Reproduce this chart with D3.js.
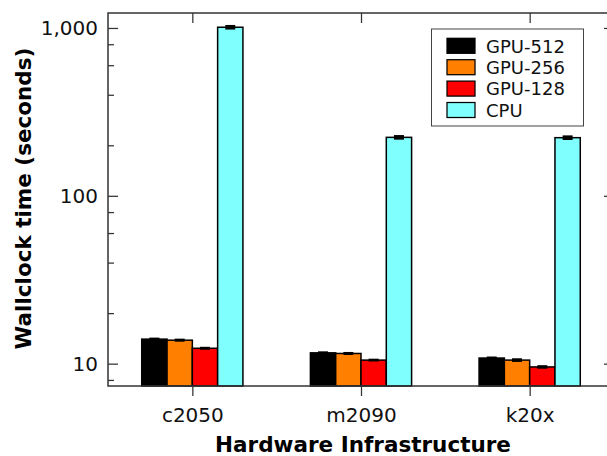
<!DOCTYPE html>
<html>
<head>
<meta charset="utf-8">
<script src="https://cdn.jsdelivr.net/npm/d3@7"></script>
<style>
  body { margin: 0; background: #fff; }
  svg { display: block; font-family: "DejaVu Sans", sans-serif; }
</style>
</head>
<body>
<div id="chart"></div>
<script>
// data
var categories = ["c2050", "m2090", "k20x"];
var seriesNames = ["GPU-512", "GPU-256", "GPU-128", "CPU"];
var seriesColors = ["#000000", "#ff8000", "#ff0000", "#80ffff"];

var gpu512 = [14.0, 11.6, 10.8];
var gpu256 = [13.8, 11.5, 10.5];
var gpu128 = [12.35, 10.5, 9.56];
var cpu = [1010, 223, 222];

var gpu512Err = [0.1, 0.08, 0.08];
var gpu256Err = [0.1, 0.08, 0.12];
var gpu128Err = [0.08, 0.06, 0.1];
var cpuErr = [18, 4, 4];

var yTicks = [10, 100, 1000];
var yTickLabels = ["10", "100", "1,000"];
var yMinorTicks = [8, 20, 40, 60, 80, 200, 400, 600, 800];

var values = [gpu512, gpu256, gpu128, cpu];
var errors = [gpu512Err, gpu256Err, gpu128Err, cpuErr];

window.onload = drawChart;

function drawChart(){
    var width = 607, height = 456;
    var left = 108, right = 614, top = 13, bottom = 386;
    var barWidth = 0.15;

    var svg = d3.select("#chart")
        .append("svg")
        .attr("width", width)
        .attr("height", height);

    var x = d3.scaleLinear()
        .domain([-0.5, categories.length - 0.5])
        .range([left, right]);

    var y = d3.scaleLog()
        .domain([7.36, 1228])
        .range([bottom, top]);

    // bars
    values.forEach(function(vals, s){
        svg.selectAll(".bar" + s)
            .data(vals)
            .enter()
            .append("rect")
            .attr("class", "bar" + s)
            .attr("x", function(d, i){ return x(i - 2 * barWidth + s * barWidth); })
            .attr("width", x(barWidth) - x(0))
            .attr("y", function(d){ return y(d); })
            .attr("height", function(d){ return bottom - y(d); })
            .style("fill", seriesColors[s])
            .style("stroke", "#000")
            .style("stroke-width", 1.5);
    });

    // error bars
    values.forEach(function(vals, s){
        var errs = errors[s];
        var g = svg.selectAll(".err" + s)
            .data(vals)
            .enter()
            .append("g")
            .attr("class", "err" + s)
            .attr("transform", function(d, i){
                return "translate(" + x(i - 1.5 * barWidth + s * barWidth) + ",0)";
            });
        g.append("line")
            .attr("y1", function(d, i){ return y(d - errs[i]); })
            .attr("y2", function(d, i){ return y(d + errs[i]); })
            .style("stroke", "#000")
            .style("stroke-width", 1.5);
        [-1, 1].forEach(function(sign){
            g.append("line")
                .attr("x1", -5).attr("x2", 5)
                .attr("y1", function(d, i){ return y(d + sign * errs[i]); })
                .attr("y2", function(d, i){ return y(d + sign * errs[i]); })
                .style("stroke", "#000")
                .style("stroke-width", 2);
        });
    });

    // axes, ticks pointing inwards like the original
    var yAxis = svg.append("g")
        .attr("transform", "translate(" + left + ",0)")
        .call(d3.axisLeft(y).tickValues(yTicks)
            .tickFormat(function(d, i){ return yTickLabels[i]; })
            .tickSizeInner(-10).tickSizeOuter(0).tickPadding(10));

    var yMinor = svg.append("g")
        .attr("transform", "translate(" + left + ",0)")
        .call(d3.axisLeft(y).tickValues(yMinorTicks).tickFormat("")
            .tickSizeInner(-6).tickSizeOuter(0));

    var yRight = svg.append("g")
        .attr("transform", "translate(" + right + ",0)")
        .call(d3.axisRight(y).tickValues(yTicks).tickFormat("")
            .tickSizeInner(-10).tickSizeOuter(0));

    var yRightMinor = svg.append("g")
        .attr("transform", "translate(" + right + ",0)")
        .call(d3.axisRight(y).tickValues(yMinorTicks).tickFormat("")
            .tickSizeInner(-6).tickSizeOuter(0));

    var xAxis = svg.append("g")
        .attr("transform", "translate(0," + bottom + ")")
        .call(d3.axisBottom(x).tickValues(d3.range(categories.length))
            .tickFormat(function(d){ return categories[d]; })
            .tickSizeInner(10).tickSizeOuter(0).tickPadding(11.5));

    var xTop = svg.append("g")
        .attr("transform", "translate(0," + top + ")")
        .call(d3.axisTop(x).tickValues(d3.range(categories.length)).tickFormat("")
            .tickSizeInner(-10).tickSizeOuter(0));

    svg.selectAll(".domain").remove();
    svg.selectAll(".tick line")
        .style("stroke", "#333")
        .style("stroke-width", 1.25);
    svg.selectAll(".tick text")
        .style("font-family", "DejaVu Sans")
        .style("font-size", "20px")
        .style("fill", "#111");

    // frame
    svg.append("rect")
        .attr("x", left)
        .attr("y", top)
        .attr("width", right - left)
        .attr("height", bottom - top)
        .style("fill", "none")
        .style("stroke", "#333")
        .style("stroke-width", 1.5);

    // axis titles
    svg.append("text")
        .attr("x", (left + right) / 2 + 2)
        .attr("y", 452)
        .attr("text-anchor", "middle")
        .style("font-size", "21.5px")
        .style("font-weight", "bold")
        .text("Hardware Infrastructure");

    svg.append("text")
        .attr("transform", "translate(30.5," + ((top + bottom) / 2 - 1) + ") rotate(-90)")
        .attr("text-anchor", "middle")
        .style("font-size", "21.5px")
        .style("font-weight", "bold")
        .text("Wallclock time (seconds)");

    // legend
    var legend = svg.append("g").attr("class", "legend");
    legend.append("rect")
        .attr("x", 431.5)
        .attr("y", 29)
        .attr("width", 152)
        .attr("height", 97)
        .style("fill", "#fff")
        .style("stroke", "#444")
        .style("stroke-width", 1);

    var legendItem = legend.selectAll(".legendItem")
        .data(seriesNames)
        .enter()
        .append("g")
        .attr("class", "legendItem")
        .attr("transform", function(d, i){
            return "translate(0," + (45.8 + i * 21.4) + ")";
        });

    legendItem.append("rect")
        .attr("x", 447)
        .attr("y", -7.5)
        .attr("width", 28)
        .attr("height", 15)
        .style("fill", function(d, i){ return seriesColors[i]; })
        .style("stroke", "#000")
        .style("stroke-width", 1.25);

    legendItem.append("text")
        .attr("x", 486)
        .attr("y", 6.7)
        .style("font-size", "18px")
        .style("fill", "#111")
        .text(function(d){ return d; });
}
</script>
</body>
</html>
